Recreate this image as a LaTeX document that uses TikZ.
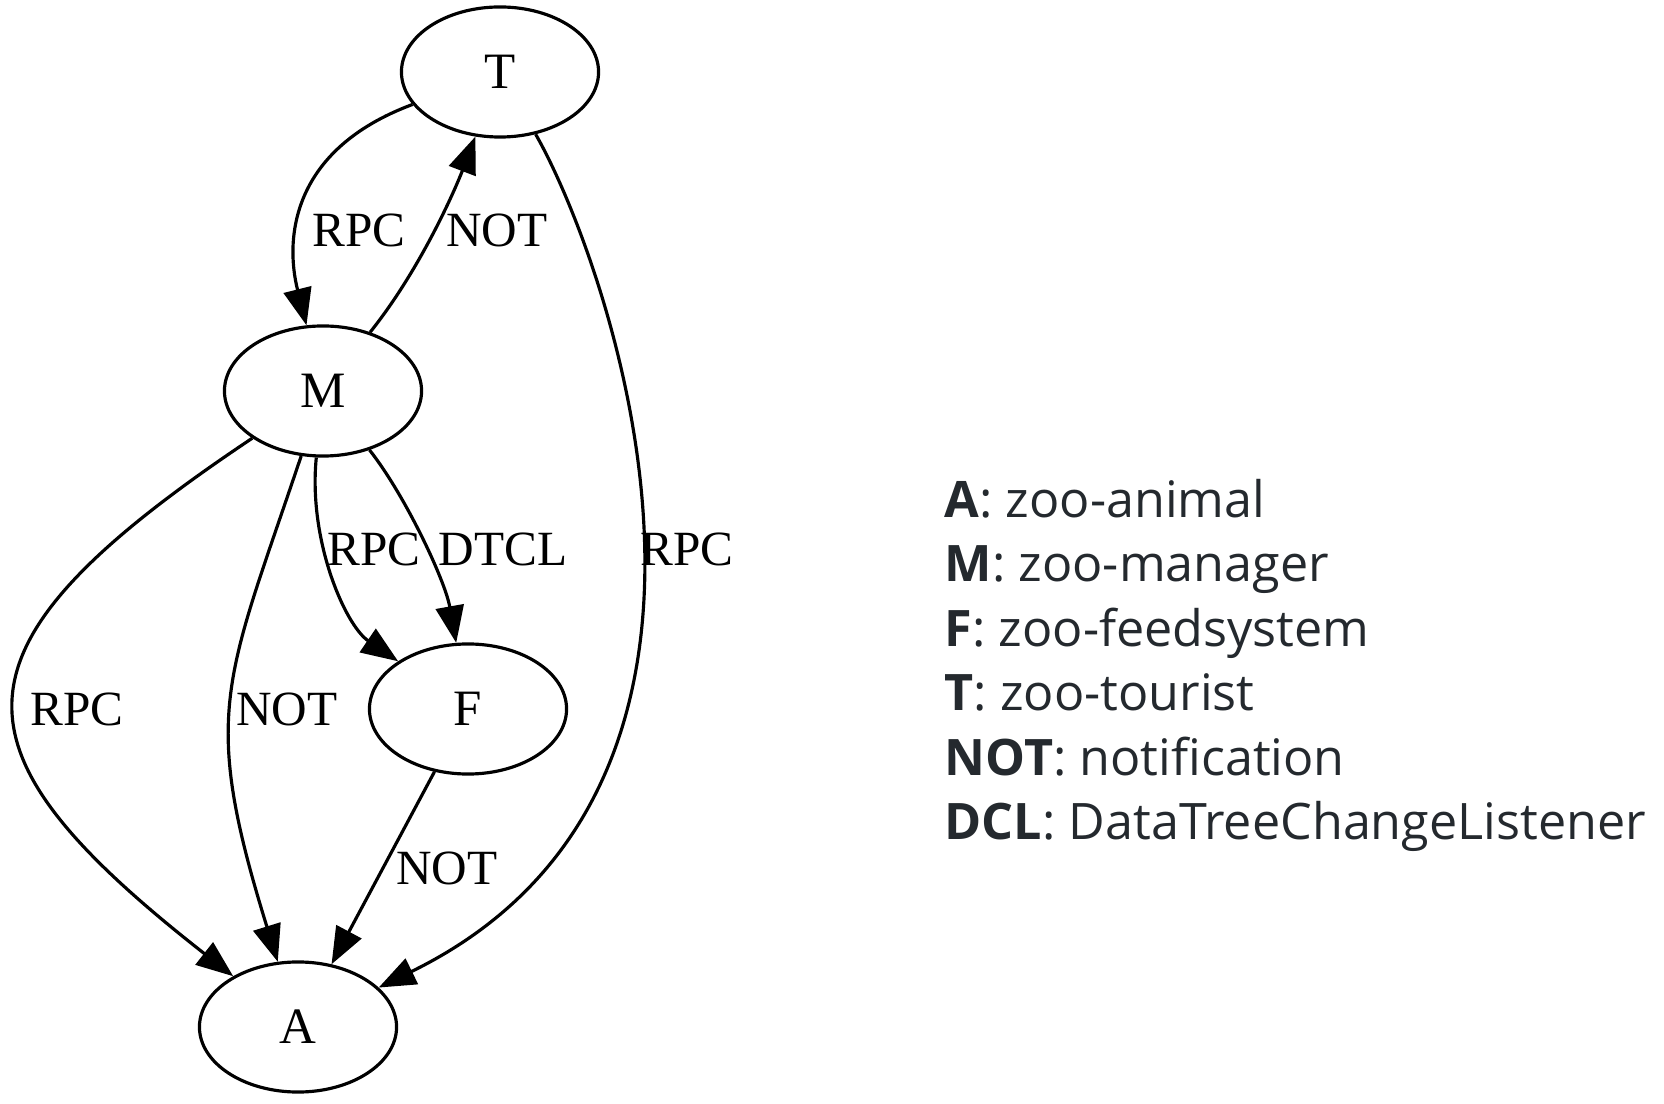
\documentclass[tikz,border=0pt]{standalone}
\usepackage{fontspec}
\setmainfont{Liberation Serif}
\newfontfamily\keyfont{Open Sans}
\usepackage{xcolor}
\usetikzlibrary{shapes,arrows.meta}
\definecolor{keygray}{RGB}{36,41,46}
\tikzstyle{comp} = [ellipse, draw, line width=0.9pt, minimum width=1.97cm, minimum height=1.3cm, inner sep=0pt, font=\fontsize{14.5}{16}\selectfont]
\tikzstyle{line} = [draw, line width=0.9pt, -{Triangle[length=10.5pt, width=8pt]}]
\tikzstyle{lbl} = [inner sep=0pt, font=\fontsize{14}{16}\selectfont]
\tikzstyle{keyline} = [anchor=base west, inner sep=0pt, text=keygray, font=\keyfont\fontsize{14.3}{18}\selectfont]

\begin{document}
\begin{tikzpicture}[x=0.01cm, y=-0.01cm]
\useasboundingbox (0,0) rectangle (1664,1104);
\node [comp] (T) at (500,72) {T};
\node [comp] (M) at (323,391) {M};
\node [comp] (F) at (468,709) {F};
\node [comp] (A) at (298,1027) {A};
\path [line] (T) .. controls (290,150) and (285,240) .. (M);
\path [line] (M) .. controls (420,270) and (455,190) .. (T);
\path [line] (T) .. controls (607,259) and (795,784) .. (A);
\path [line] (M) .. controls (-62,648) and (-58,748) .. (A);
\path [line] (M) .. controls (225,683) and (200,711) .. (A);
\path [line] (M) .. controls (308,540) and (345,625) .. (F);
\path [line] (M) .. controls (405,495) and (445,580) .. (F);
\path [line] (F) -- (A);
\node [lbl] (tm-rpc) at (359,230) {RPC};
\node [lbl] (mt-not) at (497,230) {NOT};
\node [lbl] (ta-rpc) at (687,549) {RPC};
\node [lbl] (ma-rpc) at (77,709) {RPC};
\node [lbl] (ma-not) at (287,709) {NOT};
\node [lbl] (mf-rpc) at (374,549) {RPC};
\node [lbl] (mf-dtcl) at (503,549) {DTCL};
\node [lbl] (fa-not) at (447,868) {NOT};
\node [keyline] (key-a) at (944,518) {\textbf{A}: zoo-animal};
\node [keyline] (key-m) at (944,582) {\textbf{M}: zoo-manager};
\node [keyline] (key-f) at (944,647) {\textbf{F}: zoo-feedsystem};
\node [keyline] (key-t) at (944,711) {\textbf{T}: zoo-tourist};
\node [keyline] (key-not) at (944,775) {\textbf{NOT}: notification};
\node [keyline] (key-dcl) at (944,840) {\textbf{DCL}: DataTreeChangeListener};
\end{tikzpicture}
\end{document}
